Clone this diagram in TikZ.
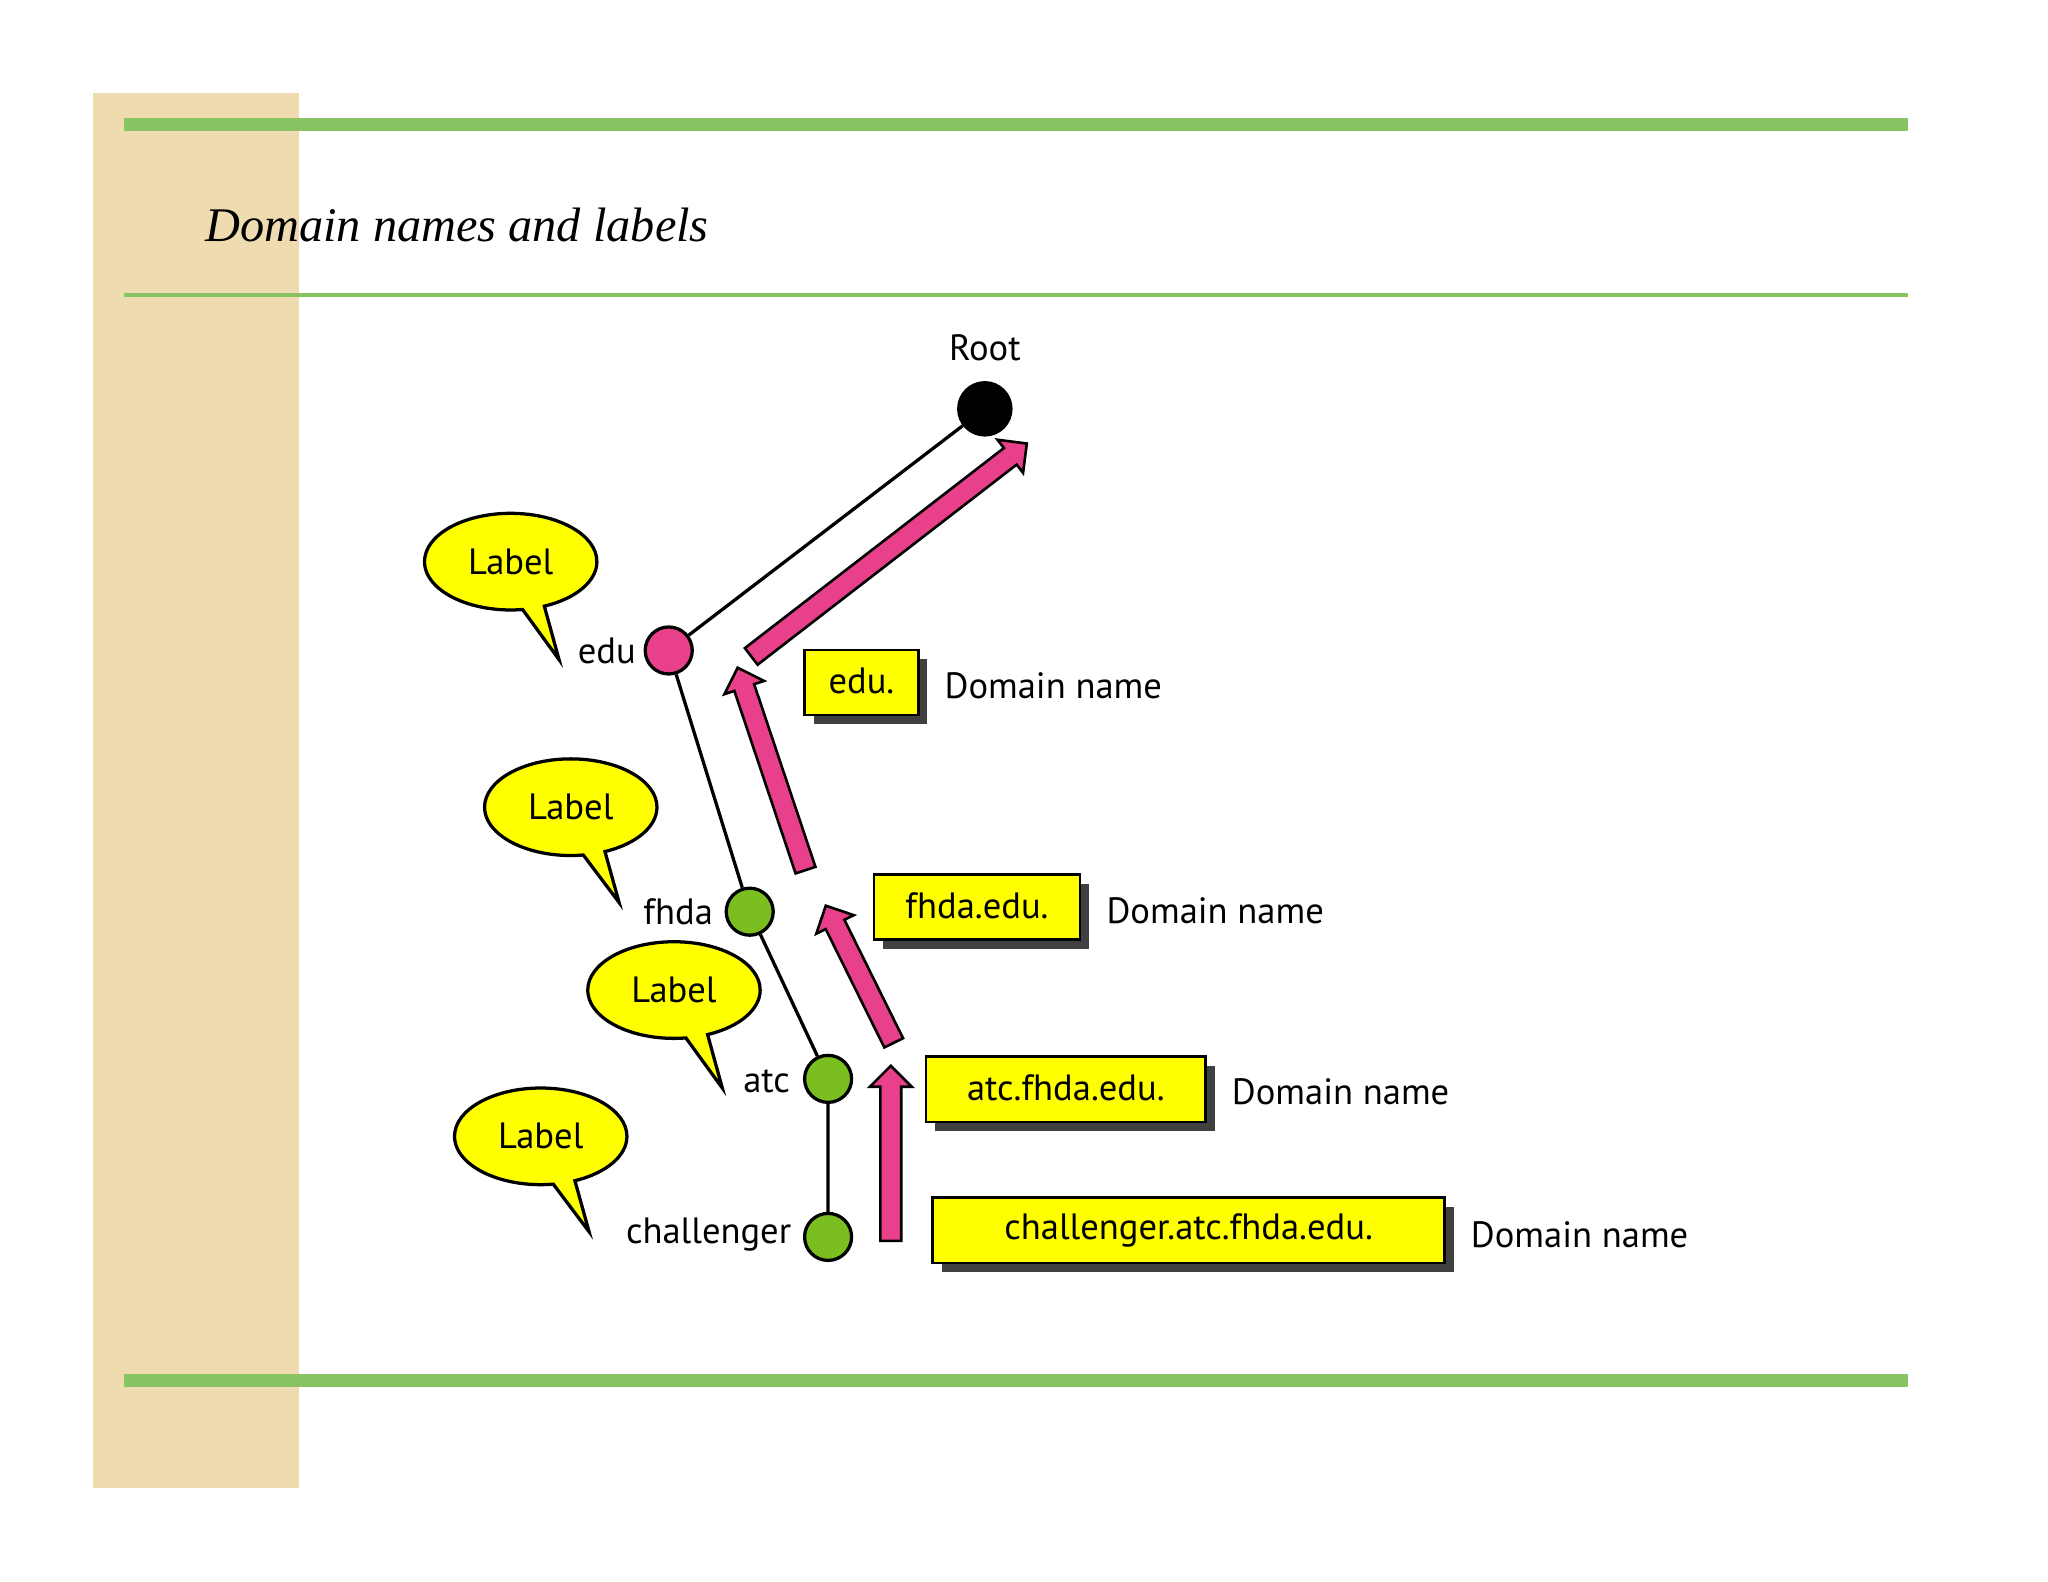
\documentclass[tikz,border=0pt]{standalone}
\usepackage{fontspec}
\setmainfont{PT Sans}
\newfontfamily\titlefont{Liberation Serif}
\usetikzlibrary{shapes.arrows,shapes.callouts,calc}
\definecolor{beige}{RGB}{238,220,176}
\definecolor{gline}{RGB}{137,196,98}
\definecolor{mag}{RGB}{233,64,140}
\definecolor{gnode}{RGB}{122,190,32}
\definecolor{yel}{RGB}{255,255,0}
\tikzset{
 dot/.style={circle,draw=black,line width=2.5pt,minimum size=36pt,inner sep=0},
 txt/.style={font=\fontsize{28}{30}\selectfont,inner sep=0},
 box/.style={draw=black,line width=2pt,fill=yel,font=\fontsize{28}{30}\selectfont,inner sep=0,minimum height=50pt,
   append after command={}},
 shadowbox/.style={fill=black!75,draw=none,inner sep=0,minimum height=50pt},
 lab/.style={ellipse callout,draw=black,line width=2.5pt,fill=yel,minimum width=132pt,minimum height=74pt,inner sep=0,font=\fontsize{28}{30}\selectfont},
 fat/.style={single arrow,draw=black,line width=2pt,fill=mag,inner sep=7pt,single arrow head extend=8pt,minimum width=30pt},
 edge/.style={line width=2.5pt}
}
\newcommand{\fatarrow}[2]{\path let \p1=($(#2)-(#1)$), \n1={atan2(\y1,\x1)}, \n2={veclen(\x1,\y1)} in node[fat,rotate=\n1,minimum height=\n2] at ($(#1)!0.5!(#2)$) {};}
\begin{document}
\begin{tikzpicture}[x=1pt,y=-1pt]
\useasboundingbox (0,0) rectangle (1568,1211);
\fill[beige] (71,71) rectangle (229,1139);
\fill[gline] (95,90) rectangle (1461,100);
\fill[gline] (95,224.5) rectangle (1461,227.5);
\fill[gline] (95,1052) rectangle (1461,1062);
\node[anchor=base west,inner sep=0,font=\titlefont\itshape\fontsize{37}{40}\selectfont] (title) at (157,185) {Domain names and labels};
% nodes
\node[dot,fill=black,minimum size=40pt] (root) at (754,313) {};
\node[txt] (roott) at (754,266) {Root};
\node[dot,fill=mag] (edu) at (512,498) {};
\node[dot,fill=gnode] (fhda) at (574,698) {};
\node[dot,fill=gnode] (atc) at (634,826) {};
\node[dot,fill=gnode] (ch) at (634,947) {};
\draw[edge] (root)--(edu) (edu)--(fhda) (fhda)--(atc) (atc)--(ch);
\node[txt,anchor=east] (edut) at (487,498) {edu};
\node[txt,anchor=east] (fhdat) at (546,698) {fhda};
\node[txt,anchor=east] (atct) at (605,828) {atc};
\node[txt,anchor=east] (cht) at (606,945) {challenger};
% callouts
\node[lab,callout absolute pointer={(428,505)}] (l1) at (391,430) {Label};
\node[lab,callout absolute pointer={(474,691)}] (l2) at (437,618) {Label};
\node[lab,callout absolute pointer={(553,833)}] (l3) at (516,758) {Label};
\node[lab,callout absolute pointer={(451,943)}] (l4) at (414,870) {Label};
% arrows
\coordinate (a1s) at (572,505); \coordinate (a1e) at (783,342);
\coordinate (a2s) at (618,670); \coordinate (a2e) at (566,515);
\coordinate (a3s) at (686,802); \coordinate (a3e) at (634,697);
\coordinate (a4s) at (682,954); \coordinate (a4e) at (682,820);
\fatarrow{a1s}{a1e}
\fatarrow{a2s}{a2e}
\fatarrow{a3s}{a3e}
\fatarrow{a4s}{a4e}
% boxes
\foreach \n/\x/\y/\w/\t in {b1/659.5/522.5/87/edu.,b2/748/694.5/158/fhda.edu.,b3/816/834/214/atc.fhda.edu.,b4/910/942/392/challenger.atc.fhda.edu.}{
  \node[shadowbox,minimum width=\w pt] at (\x+7,\y+7) {};
  \node[box,minimum width=\w pt] (\n) at (\x,\y) {\raisebox{2pt}{\t}};
}
\node[txt,anchor=west] (d1) at (723,525) {Domain name};
\node[txt,anchor=west] (d2) at (847,697) {Domain name};
\node[txt,anchor=west] (d3) at (943,836) {Domain name};
\node[txt,anchor=west] (d4) at (1126,945) {Domain name};
\end{tikzpicture}
\end{document}
